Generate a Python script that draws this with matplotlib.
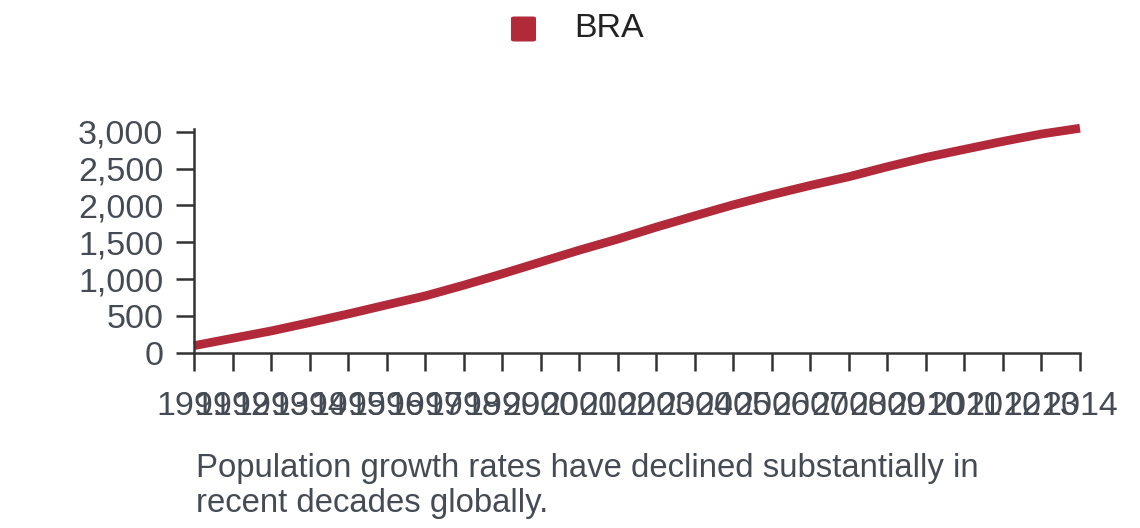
import matplotlib
matplotlib.use("Agg")
import matplotlib.pyplot as plt
from matplotlib.patches import FancyBboxPatch

# data
years = list(range(1991, 2015))
bra = [103, 203, 302, 415, 532, 655, 776, 921, 1075, 1235, 1395, 1545,
       1707, 1860, 2009, 2145, 2271, 2389, 2524, 2650, 2759, 2867, 2967, 3045]
yticks = [0, 500, 1000, 1500, 2000, 2500, 3000]
series_name = "BRA"
caption = ("Population growth rates have declined substantially in\n"
           "recent decades globally.")

line_color = "#b22a3a"
axis_color = "#333333"
label_color = "#454b54"

plt.rcParams["font.family"] = ["Liberation Sans", "DejaVu Sans"]

fig = plt.figure(figsize=(11.4, 5.28), dpi=100)
ax = fig.add_axes([194 / 1140, 1 - 353.3 / 528, (1080 - 194) / 1140, (353.3 - 128.6) / 528])

ax.plot(years, bra, color=line_color, linewidth=6.3, solid_capstyle="butt",
        clip_on=False)

ax.set_xlim(years[0], years[-1])
ax.set_ylim(0, 3040)
ax.set_xticks(years)
ax.set_xticklabels([str(y) for y in years])
ax.set_yticks(yticks)
ax.set_yticklabels([f"{v:,}" for v in yticks])

for side in ["top", "right"]:
    ax.spines[side].set_visible(False)
for side in ["left", "bottom"]:
    ax.spines[side].set_color(axis_color)
    ax.spines[side].set_linewidth(1.8)

ax.tick_params(axis="both", direction="out", length=13, width=1.8,
               color=axis_color, labelsize=24.5, labelcolor=label_color)
ax.tick_params(axis="x", pad=14)
ax.tick_params(axis="y", pad=9)

# legend: rounded square + label
sq = FancyBboxPatch((511 / 1140, 1 - 41.5 / 528), 25 / 1140, 25 / 528,
                    boxstyle="round,pad=0,rounding_size=0.003",
                    transform=fig.transFigure, facecolor=line_color,
                    edgecolor="none")
fig.patches.append(sq)
fig.text(574 / 1140, 1 - 28.5 / 528, series_name, fontsize=24.5,
         color="#222222", va="center", ha="left")

# caption under the chart
fig.text(196 / 1140, 1 - 511.7 / 528, caption, fontsize=23.7, color=label_color,
         ha="left", va="baseline", linespacing=1.17)

fig.savefig("out.png", dpi=100)
